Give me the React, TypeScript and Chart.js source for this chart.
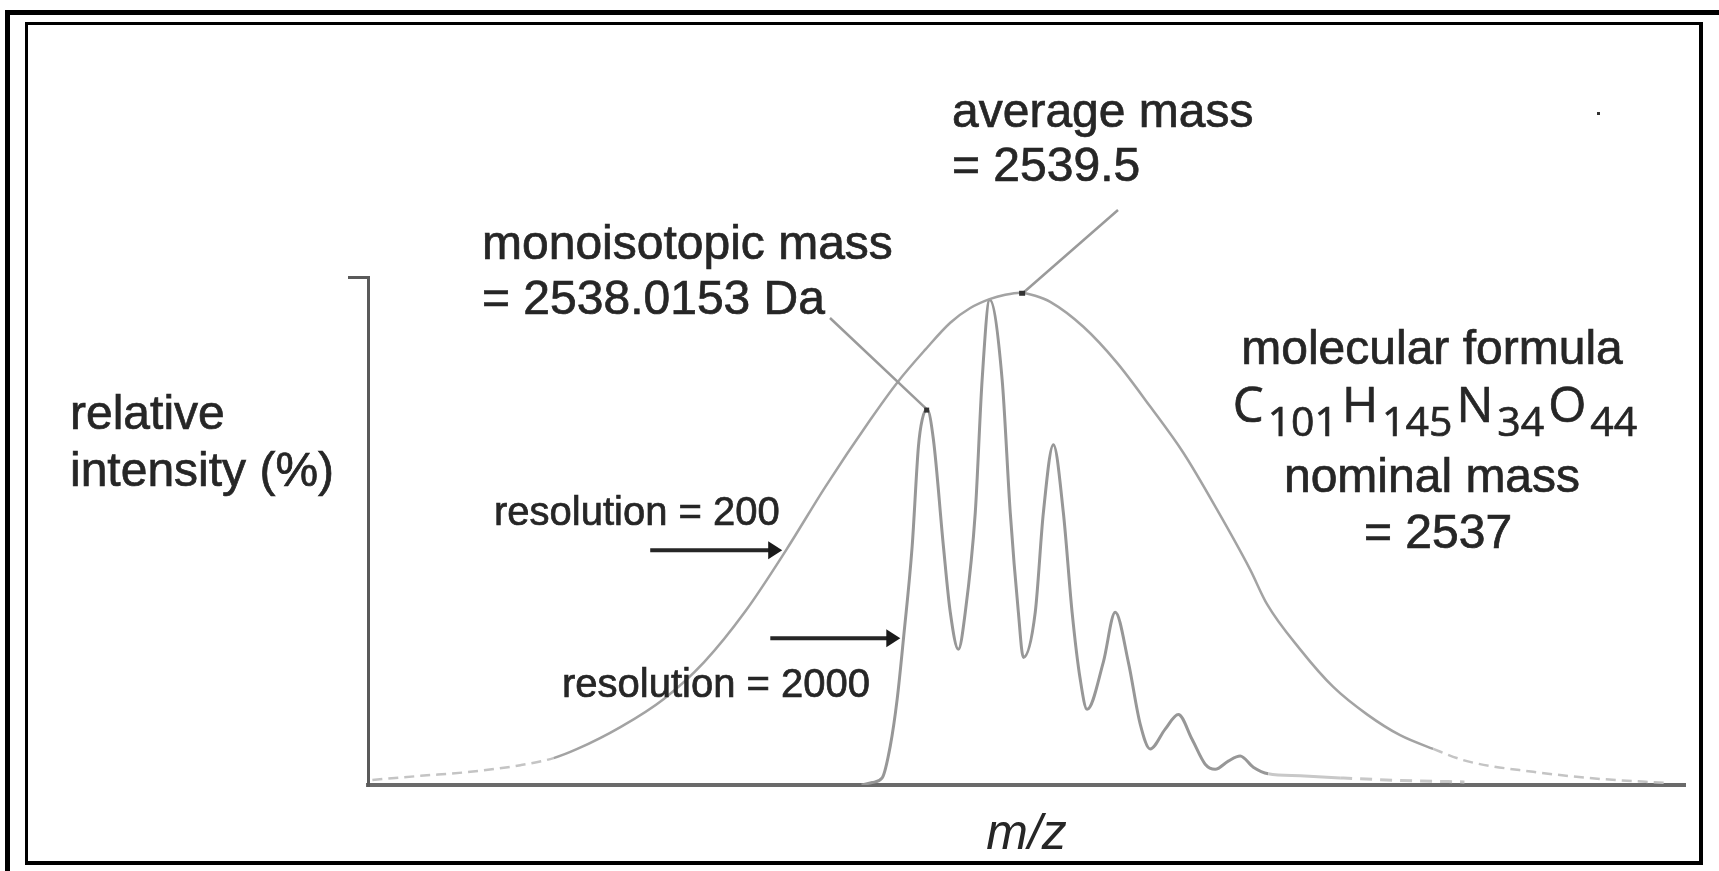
import React, { useEffect, useRef } from 'react';
import { Chart, registerables } from 'chart.js';

Chart.register(...registerables);

// ---- data (m/z in Da, relative intensity in %) ----
const broadMz = [2529.12, 2529.89, 2530.69, 2531.49, 2532.02, 2532.40, 2533.09, 2533.78, 2534.43, 2535.09, 2535.74, 2536.37, 2537.09, 2537.52, 2537.97, 2538.37, 2538.69, 2539.01, 2539.25, 2539.49, 2539.73, 2539.97, 2540.50, 2541.04, 2541.57, 2542.10, 2542.64, 2543.17, 2543.44, 2543.97, 2544.50, 2545.04, 2545.57, 2546.10, 2546.64, 2547.70, 2548.77, 2549.84];
const broadIntensity = [1.0, 1.8, 2.6, 3.9, 5.3, 7.1, 11.4, 16.9, 24.2, 34.2, 46.2, 58.7, 71.9, 79.2, 85.7, 91.0, 93.9, 95.7, 96.5, 96.9, 96.3, 95.1, 90.2, 83.1, 74.5, 65.4, 54.2, 42.4, 35.6, 26.7, 19.3, 13.9, 9.8, 7.1, 4.7, 2.6, 1.2, 0.4];

const narrowMz = [2536.95, 2537.12, 2537.28, 2537.41, 2537.52, 2537.62, 2537.76, 2537.86, 2537.92, 2538.00, 2538.10, 2538.26, 2538.37, 2538.50, 2538.61, 2538.77, 2538.88, 2539.00, 2539.20, 2539.33, 2539.46, 2539.54, 2539.73, 2539.86, 2540.02, 2540.18, 2540.32, 2540.45, 2540.56, 2540.82, 2541.01, 2541.22, 2541.41, 2541.57, 2541.81, 2542.02, 2542.24, 2542.45, 2542.61, 2542.82, 2543.01, 2543.22, 2543.46, 2543.97, 2544.61, 2545.57, 2546.60];
const narrowIntensity = [0, 0.5, 1.4, 7.7, 16.9, 28.7, 47.0, 66.6, 71.9, 73.9, 68.0, 47.0, 34.0, 26.7, 34.0, 53.6, 79.8, 95.5, 79.8, 53.6, 34.0, 25.1, 34.0, 53.6, 67.0, 53.6, 34.0, 20.8, 14.9, 24.2, 34.0, 24.2, 12.0, 7.1, 11.0, 13.9, 9.0, 4.1, 3.1, 4.7, 5.7, 3.5, 2.2, 1.8, 1.4, 0.9, 0.6];

const xRange = [2529.05, 2550.13];
const yRange = [0, 100];
const yTopTick = [100];

// annotation anchors (data units)
const averageMassPoint = [2539.52, 96.7];
const monoisotopicPoint = [2538.0, 73.9];
const res200Tip = [2535.68, 46.2];
const res2000Tip = [2537.57, 28.9];

const textColor = '#262626';
const sans = '"Liberation Sans", Arial, sans-serif';
const formulaFont = '"Open Sans", "Noto Sans", sans-serif';
const formulaParts: [string, boolean][] = [
  ['C', false], ['101', true], ['H', false], ['145', true],
  ['N', false], ['34', true], ['O', false], ['44', true],
];

const zip = (xs: number[], ys: number[]) => xs.map((v, i) => ({ x: v, y: ys[i] }));

const annotationPlugin = {
  id: 'figureAnnotations',
  beforeDraw(chart: any) {
    const { ctx, width, height } = chart;
    ctx.save();
    ctx.fillStyle = '#ffffff';
    ctx.fillRect(0, 0, width, height);
    ctx.restore();
  },
  afterDraw(chart: any) {
    const { ctx } = chart;
    const xs = chart.scales.x;
    const ys = chart.scales.y;
    const px = (p: number[]) => [xs.getPixelForValue(p[0]), ys.getPixelForValue(p[1])];
    ctx.save();

    // frames
    ctx.fillStyle = '#000';
    ctx.fillRect(5, 10, 1714, 5);
    ctx.fillRect(5, 10, 5, 861);
    ctx.fillRect(25, 22, 1678, 3);
    ctx.fillRect(25, 22, 3, 843);
    ctx.fillRect(1699, 22, 4, 843);
    ctx.fillRect(25, 861, 1678, 4);

    // texts
    ctx.fillStyle = textColor;
    ctx.strokeStyle = textColor;
    ctx.lineWidth = 0.7;
    ctx.textBaseline = 'alphabetic';
    const txt = (t: string, x: number, y: number) => {
      ctx.fillText(t, x, y);
      ctx.strokeText(t, x, y);
    };
    ctx.font = `48px ${sans}`;
    ctx.textAlign = 'left';
    txt('average mass', 952, 127);
    txt('= 2539.5', 952, 181);
    txt('monoisotopic mass', 482, 259);
    txt('= 2538.0153 Da', 482, 314);
    txt('relative', 70, 429);
    txt('intensity (%)', 70, 486);
    ctx.textAlign = 'center';
    txt('molecular formula', 1432, 364);
    txt('nominal mass', 1432, 492);
    txt('= 2537', 1438, 548);

    ctx.textAlign = 'left';
    ctx.font = `40px ${sans}`;
    txt('resolution = 200', 494, 525);
    txt('resolution = 2000', 562, 697);

    // formula with subscripts
    const mainFont = `49px ${formulaFont}`;
    const subFont = `41px ${formulaFont}`;
    const gap = 4;
    let total = 0;
    formulaParts.forEach(([t, sub], i) => {
      ctx.font = sub ? subFont : mainFont;
      total += ctx.measureText(t).width + (i ? gap : 0);
    });
    let cx = 1435 - total / 2;
    formulaParts.forEach(([t, sub]) => {
      ctx.font = sub ? subFont : mainFont;
      txt(t, cx, sub ? 436 : 422);
      cx += ctx.measureText(t).width + gap;
    });

    // pointer lines
    ctx.strokeStyle = '#9a9a9a';
    ctx.lineWidth = 2.5;
    const avg = px(averageMassPoint);
    const mono = px(monoisotopicPoint);
    ctx.beginPath();
    ctx.moveTo(1118, 210);
    ctx.lineTo(avg[0], avg[1]);
    ctx.moveTo(830, 318);
    ctx.lineTo(mono[0], mono[1]);
    ctx.stroke();
    ctx.fillStyle = '#333';
    ctx.fillRect(avg[0] - 3, avg[1] - 3, 6, 5);
    ctx.fillRect(mono[0] - 3, mono[1] - 2, 5, 5);
    ctx.fillRect(1597, 112, 3, 3);

    // arrows
    const drawArrow = (tip: number[], len: number) => {
      const [tx, ty] = px(tip);
      ctx.strokeStyle = '#262626';
      ctx.fillStyle = '#1a1a1a';
      ctx.lineWidth = 4;
      ctx.beginPath();
      ctx.moveTo(tx - len, ty);
      ctx.lineTo(tx - 10, ty);
      ctx.stroke();
      ctx.beginPath();
      ctx.moveTo(tx, ty);
      ctx.lineTo(tx - 14, ty - 9);
      ctx.lineTo(tx - 14, ty + 9);
      ctx.closePath();
      ctx.fill();
    };
    drawArrow(res200Tip, 132);
    drawArrow(res2000Tip, 130);

    ctx.restore();
  },
};

export default function App() {
  const canvasRef = useRef<HTMLCanvasElement | null>(null);

  useEffect(() => {
    document.body.style.margin = '0';
    const canvas = canvasRef.current;
    if (!canvas) return;
    const chart = new Chart(canvas, {
      type: 'line',
      data: {
        datasets: [
          {
            label: 'resolution = 200',
            data: zip(broadMz, broadIntensity),
            borderColor: '#a3a3a3',
            borderWidth: 2.5,
            pointRadius: 0,
            cubicInterpolationMode: 'monotone',
            fill: false,
            segment: {
              borderDash: (c: any) => (c.p1.parsed.x < 2532.1 || c.p0.parsed.x > 2546.0 ? [10, 6] : undefined),
              borderColor: (c: any) => (c.p1.parsed.x < 2532.1 || c.p0.parsed.x > 2546.0 ? '#c4c4c4' : undefined),
            },
          },
          {
            label: 'resolution = 2000',
            data: zip(narrowMz, narrowIntensity),
            borderColor: '#979797',
            borderWidth: 3,
            pointRadius: 0,
            cubicInterpolationMode: 'monotone',
            fill: false,
            segment: {
              borderColor: (c: any) => (c.p0.parsed.x > 2543.4 ? '#c8c8c8' : undefined),
              borderDash: (c: any) => (c.p0.parsed.x > 2544.5 ? [12, 8] : undefined),
            },
          },
        ],
      },
      options: {
        responsive: false,
        animation: false,
        devicePixelRatio: 1,
        events: [],
        layout: { padding: { left: 348, right: 34, top: 277, bottom: 6 } },
        plugins: { legend: { display: false }, tooltip: { enabled: false }, title: { display: false } },
        scales: {
          x: {
            type: 'linear',
            min: xRange[0],
            max: xRange[1],
            grid: { display: false, drawTicks: false },
            border: { display: true, width: 4, color: '#6a6a6a' },
            ticks: { display: false },
            title: {
              display: true,
              text: 'm/z',
              color: textColor,
              font: { family: sans, size: 50, style: 'italic' },
              padding: { top: 0, bottom: 0 },
            },
            afterFit: (s: any) => { s.height = 80; },
          },
          y: {
            type: 'linear',
            min: yRange[0],
            max: yRange[1],
            afterBuildTicks: (s: any) => { s.ticks = yTopTick.map((v) => ({ value: v })); },
            grid: { display: true, drawOnChartArea: false, drawTicks: true, tickLength: 20, lineWidth: 3, color: '#5a5a5a' },
            border: { display: true, width: 3, color: '#5a5a5a' },
            ticks: { display: false },
            afterFit: (s: any) => { s.width = 20; },
          },
        },
      },
      plugins: [annotationPlugin],
    } as any);
    return () => chart.destroy();
  }, []);

  return (
    <div style={{ width: 1719, height: 871 }}>
      <canvas ref={canvasRef} width={1719} height={871} style={{ display: 'block' }} />
    </div>
  );
}
